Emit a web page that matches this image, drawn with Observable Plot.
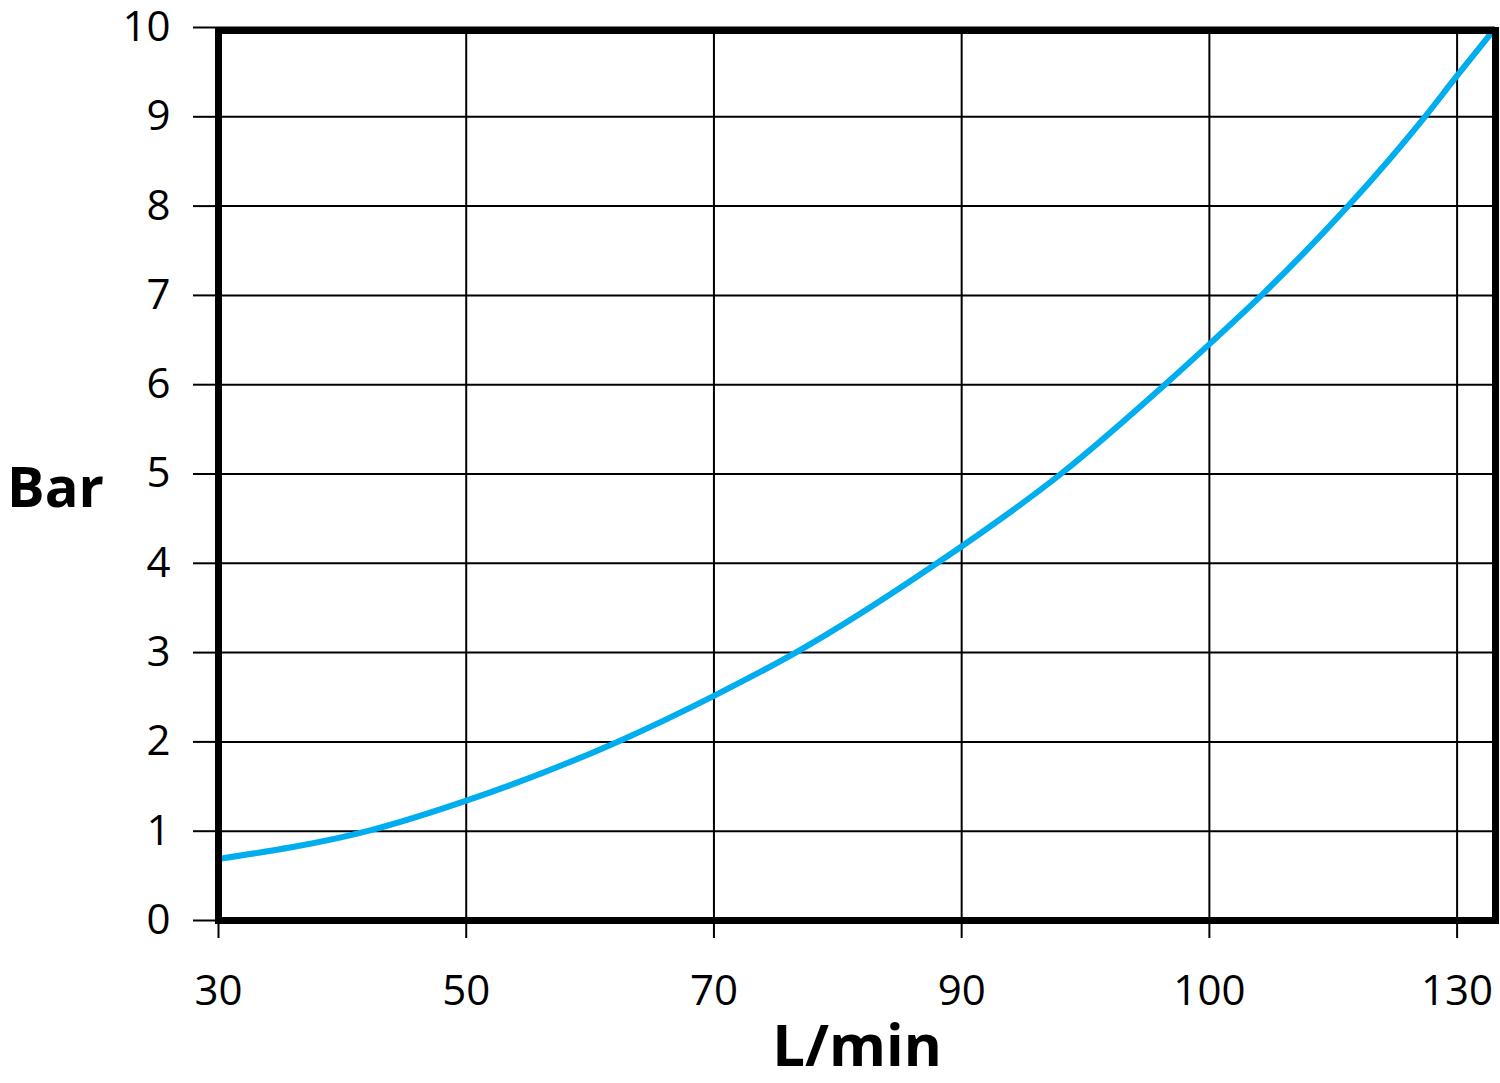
<!DOCTYPE html>
<html><head><meta charset="utf-8">
<script src="https://cdn.jsdelivr.net/npm/d3@7"></script>
<script src="https://cdn.jsdelivr.net/npm/@observablehq/plot@0.6"></script>
<style>body{margin:0;background:#fff} svg{display:block}</style>
</head><body><div id="chart"></div>
<script>
// x axis: evenly spaced tick positions labelled with flow values
const xTickPositions = [0, 1, 2, 3, 4, 5];
const xTickLabels = ["30", "50", "70", "90", "100", "130"];
const yTicks = [0, 1, 2, 3, 4, 5, 6, 7, 8, 9, 10];
// curve (position along the tick axis, pressure in bar)
const flowPos = [0, 0.60, 1.03, 1.61, 2.01, 2.33, 2.90, 3.40, 3.82, 4.01, 4.21, 4.56, 4.87, 5.00, 5.13];
const pressureBar = [0.69, 1.0, 1.37, 2.0, 2.53, 3.0, 4.0, 5.0, 6.0, 6.48, 7.0, 8.0, 9.0, 9.46, 9.91];
const xTitle = "L/min";
const yTitle = "Bar";

const data = flowPos.map((x, i) => ({x, y: pressureBar[i]}));

const chart = Plot.plot({
  width: 1500,
  height: 1083,
  marginLeft: 218,
  marginRight: 5,
  marginTop: 27,
  marginBottom: 163,
  style: {fontFamily: "'Open Sans', sans-serif", fontSize: "42px", color: "black", background: "white", overflow: "visible"},
  x: {domain: [0, 5.155]},
  y: {domain: [0, 10]},
  marks: [
    Plot.gridX(xTickPositions, {stroke: "black", strokeOpacity: 1, strokeWidth: 2}),
    Plot.gridY(yTicks, {stroke: "black", strokeOpacity: 1, strokeWidth: 2}),
    Plot.axisX(xTickPositions, {tickFormat: i => xTickLabels[i], tickSize: 18, tickPadding: 37, strokeWidth: 2, label: null, fontSize: 42}),
    Plot.axisY(yTicks, {tickFormat: d => String(d), tickSize: 25, tickPadding: 23, strokeWidth: 2, label: null, fontSize: 42}),
    Plot.line(data, {x: "x", y: "y", stroke: "#00AEEF", strokeWidth: 6, curve: "monotone-x"}),
    Plot.frame({stroke: "black", strokeWidth: 7, insetTop: 3}),
    Plot.text([yTitle], {text: d => d, frameAnchor: "left", dx: -163, dy: 15, textAnchor: "middle", fontSize: 56, fontWeight: "bold"}),
    Plot.text([xTitle], {text: d => d, frameAnchor: "bottom", dy: 145, textAnchor: "middle", fontSize: 58, fontWeight: "bold"})
  ]
});
document.getElementById("chart").appendChild(chart);
</script>
</body></html>
